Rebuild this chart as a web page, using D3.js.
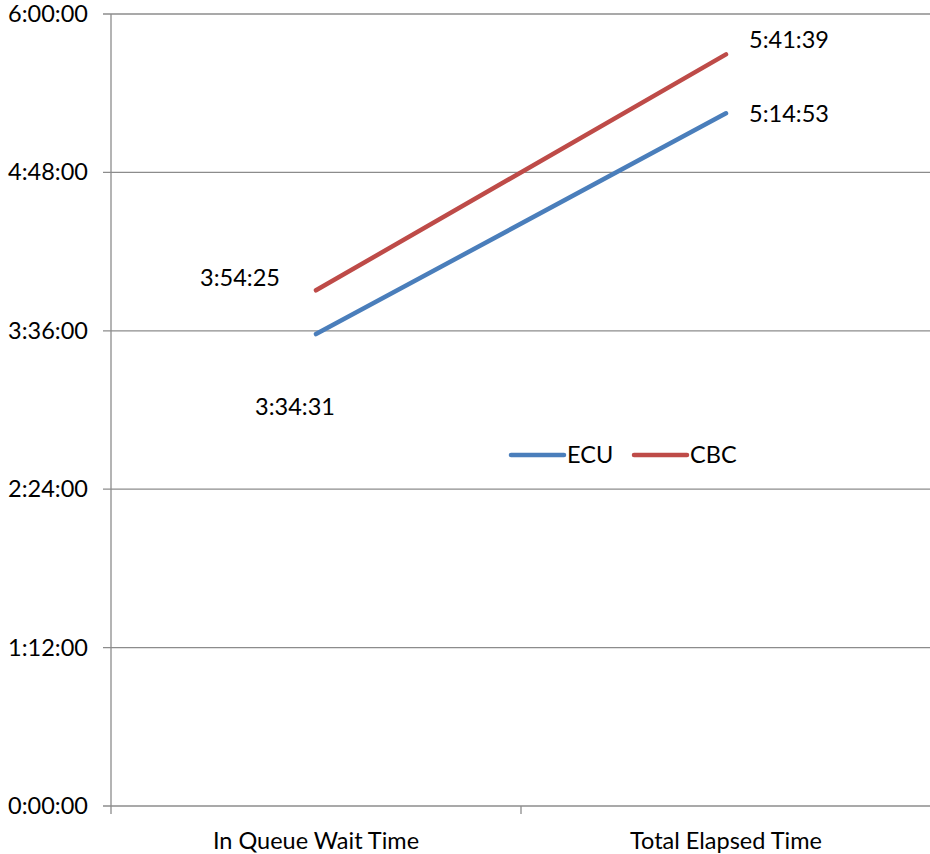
<!DOCTYPE html>
<html><head><meta charset="utf-8">
<script src="https://cdn.jsdelivr.net/npm/d3@7"></script>
<style>body{margin:0;background:#fff}svg{display:block}text{font-family:Lato,"Open Sans",sans-serif;font-size:23.5px;fill:#000}</style>
</head><body>
<svg id="c" width="930" height="854"></svg>
<script>
const categories = ["In Queue Wait Time", "Total Elapsed Time"];
const seriesNames = ["ECU", "CBC"];
const ecuValues = ["3:34:31", "5:14:53"];
const cbcValues = ["3:54:25", "5:41:39"];
const yTickLabels = ["0:00:00", "1:12:00", "2:24:00", "3:36:00", "4:48:00", "6:00:00"];
const colors = ["#4A7EBB", "#BE4B48"];

(function(){
const toSec = s => { const p = s.split(":").map(Number); return p[0]*3600 + p[1]*60 + p[2]; };
const svg = d3.select("#c");
const pl = 111, pr = 931, pt = 14, pb = 806;
const x = d3.scaleBand().domain(categories).range([pl, pr]).padding(0);
const y = d3.scaleLinear().domain([0, 21600]).range([pb, pt]);
const tickVals = yTickLabels.map(toSec);

svg.append("g").selectAll("line").data(tickVals).join("line")
  .attr("x1", pl - 8).attr("x2", pr).attr("y1", d => y(d)).attr("y2", d => y(d))
  .attr("stroke", "#8c8c8c").attr("stroke-width", 1.3);
svg.append("line").attr("x1", pl).attr("x2", pl).attr("y1", pt).attr("y2", pb)
  .attr("stroke", "#8c8c8c").attr("stroke-width", 1.3);
const xt = [pl, pl + x.bandwidth(), pr];
svg.append("g").selectAll("line").data(xt).join("line")
  .attr("x1", d => d).attr("x2", d => d).attr("y1", pb).attr("y2", pb + 8)
  .attr("stroke", "#8c8c8c").attr("stroke-width", 1.3);
svg.append("g").selectAll("text").data(yTickLabels).join("text")
  .attr("x", 88).attr("y", d => y(toSec(d)) + 8).attr("text-anchor", "end").text(d => d);
svg.append("g").selectAll("text").data(categories).join("text")
  .attr("x", d => x(d) + x.bandwidth()/2).attr("y", 849).attr("text-anchor", "middle").text(d => d);

const series = [ecuValues, cbcValues];
const line = d3.line().x((d, i) => x(categories[i]) + x.bandwidth()/2).y(d => y(toSec(d)));
series.forEach((vals, si) => {
  svg.append("path").attr("d", line(vals)).attr("fill", "none")
    .attr("stroke", colors[si]).attr("stroke-width", 4.5).attr("stroke-linecap", "round");
});
const cx0 = x(categories[0]) + x.bandwidth()/2, cx1 = x(categories[1]) + x.bandwidth()/2;
svg.append("text").attr("x", cx0 - 21).attr("y", y(toSec(ecuValues[0])) + 81).attr("text-anchor", "middle").text(ecuValues[0]);
svg.append("text").attr("x", cx0 - 36).attr("y", y(toSec(cbcValues[0])) - 4).attr("text-anchor", "end").text(cbcValues[0]);
svg.append("text").attr("x", cx1 + 23).attr("y", y(toSec(ecuValues[1])) + 9).text(ecuValues[1]);
svg.append("text").attr("x", cx1 + 23).attr("y", y(toSec(cbcValues[1])) - 6).text(cbcValues[1]);

const lg = svg.append("g");
const lx = [511, 634];
seriesNames.forEach((n, i) => {
  lg.append("line").attr("x1", lx[i]).attr("x2", lx[i] + 53).attr("y1", 455).attr("y2", 455)
    .attr("stroke", colors[i]).attr("stroke-width", 4.5).attr("stroke-linecap", "round");
  lg.append("text").attr("x", lx[i] + 56).attr("y", 463).text(n);
});
})();
</script>
</body></html>
